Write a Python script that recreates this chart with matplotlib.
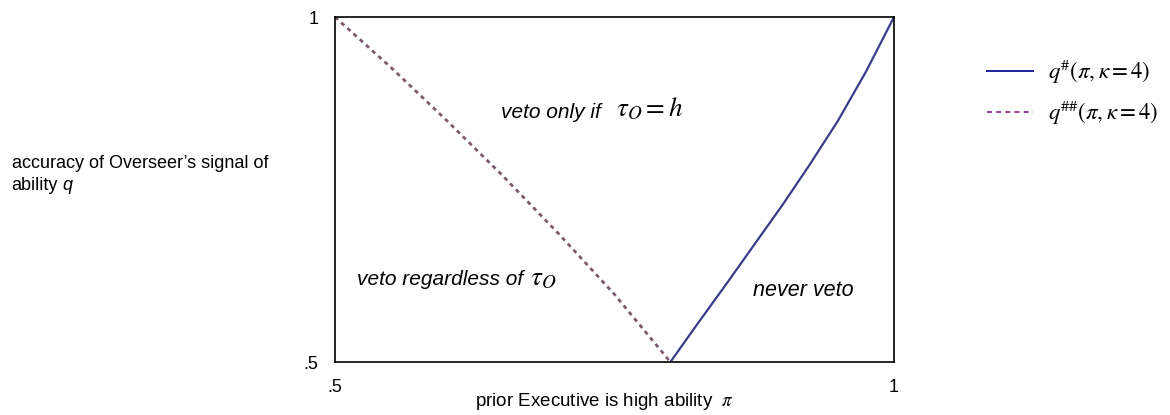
import matplotlib
matplotlib.use("Agg")
import matplotlib.pyplot as plt
from matplotlib.lines import Line2D

plt.rcParams['font.family'] = ['Liberation Sans', 'DejaVu Sans']
plt.rcParams['mathtext.fontset'] = 'stix'

# q## curve (dashed): veto regardless vs veto only if tau_O = h
pi_dd = [0.5, 0.55, 0.6, 0.65, 0.7, 0.75, 0.8]
q_dd = [1.0, 0.927, 0.850, 0.770, 0.686, 0.598, 0.5]

# q# curve (solid): never veto boundary
pi_s = [0.8, 0.825, 0.85, 0.875, 0.9, 0.925, 0.95, 0.975, 1.0]
q_s = [0.5, 0.557, 0.613, 0.670, 0.727, 0.787, 0.850, 0.921, 1.0]

ticks = [0.5, 1.0]
tick_labels = ['.5', '1']

fig = plt.figure(figsize=(11.7, 4.15), dpi=100)
ax = fig.add_axes([0.2863, 0.1277, 0.4778, 0.8313])

ax.plot(pi_s, q_s, color='#3c3c8c', lw=1.6)
ax.plot(pi_dd, q_dd, color='#7d5a6e', lw=2.0, dashes=(1.5, 1.5))

ax.set_xlim(0.5, 1.0)
ax.set_ylim(0.5, 1.0)
ax.set_xticks(ticks)
ax.set_xticklabels(tick_labels, fontsize=13)
ax.set_yticks(ticks)
ax.set_yticklabels(tick_labels, fontsize=13)
ax.tick_params(length=0, pad=12)
for s in ax.spines.values():
    s.set_linewidth(1.2)

ax.set_xlabel(r'prior Executive is high ability  $\pi$', fontsize=13.5, labelpad=-4)
ax.xaxis.set_label_coords(0.483, -0.085)

# y label on the far left, with an italic sans "q"
fig.text(0.010, 0.605, "accuracy of Overseer\u2019s signal of", fontsize=13,
         ha='left', va='center')
fig.text(0.010, 0.553, "ability", fontsize=13, ha='left', va='center')
fig.text(0.053, 0.553, "q", fontsize=13, style='italic', ha='left', va='center')

# region labels; the math parts follow the sans text
t1 = ax.text(0.6485, 0.862, 'veto only if', fontsize=15, style='italic',
             ha='left', va='center')
ax.annotate(r'$\tau_O = h$', xy=(1, 0.5), xycoords=t1, xytext=(11, 2),
            textcoords='offset points', fontsize=19.5, ha='left', va='center')
t2 = ax.text(0.5197, 0.619, 'veto regardless of', fontsize=15, style='italic',
             ha='left', va='center')
ax.annotate(r'$\tau_O$', xy=(1, 0.5), xycoords=t2, xytext=(5, 1),
            textcoords='offset points', fontsize=19.5, ha='left', va='center')
ax.text(0.874, 0.604, 'never veto', fontsize=15.5, style='italic',
        ha='left', va='center')

# legend at the right
handles = [Line2D([], [], color='#1f1fa0', lw=1.4),
           Line2D([], [], color='#8b1a8b', lw=1.2, dashes=(3, 2.5))]
labels = [r'$q^{\#}(\pi,\kappa=4)$', r'$q^{\#\#}(\pi,\kappa=4)$']
fig.legend(handles, labels, loc='upper left', bbox_to_anchor=(0.826, 0.911),
           frameon=False, fontsize=16.5, handlelength=2.0, handletextpad=0.65,
           labelspacing=0.55)

fig.savefig('out.png', dpi=100)
